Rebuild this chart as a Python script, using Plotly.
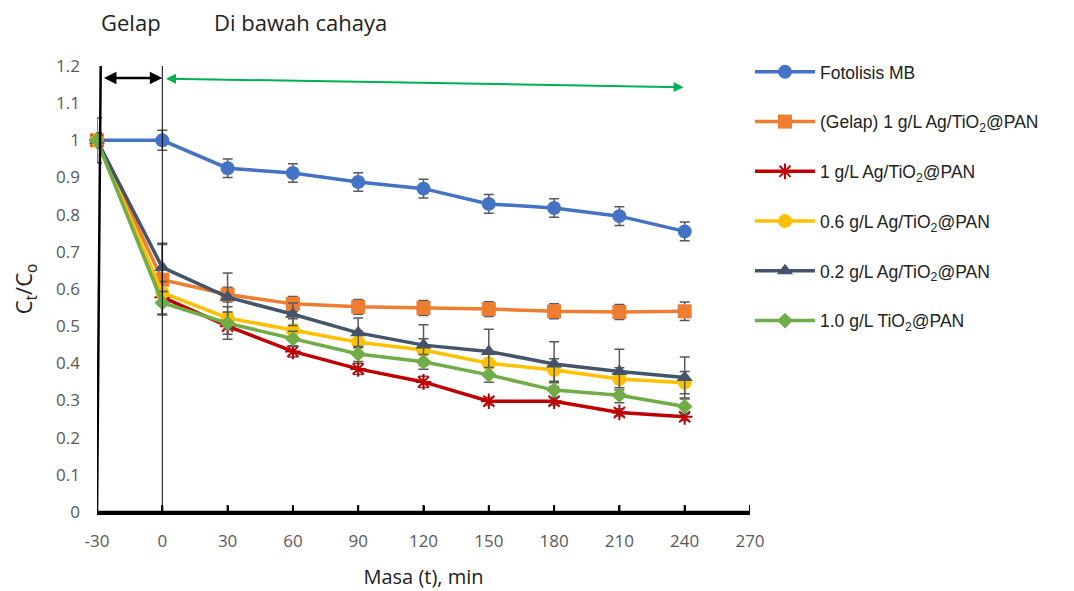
import plotly.graph_objects as go

time_min = [-30, 0, 30, 60, 90, 120, 150, 180, 210, 240]
x_ticks = [-30, 0, 30, 60, 90, 120, 150, 180, 210, 240, 270]

fotolisis = [1.0, 1.0, 0.925, 0.912, 0.888, 0.870, 0.829, 0.818, 0.796, 0.755]
fotolisis_err = [0.06, 0.027, 0.025, 0.025, 0.025, 0.025, 0.025, 0.025, 0.025, 0.025]

gelap_1g = [1.0, 0.625, 0.585, 0.560, 0.552, 0.549, 0.546, 0.540, 0.538, 0.540]
gelap_1g_err = [0.02, 0.095, 0.02, 0.02, 0.02, 0.02, 0.02, 0.02, 0.02, 0.025]

ag_1g = [1.0, 0.578, 0.500, 0.432, 0.385, 0.350, 0.298, 0.298, 0.268, 0.256]
ag_1g_err = [0.02, 0.02, 0.035, 0.015, 0.015, 0.015, 0.01, 0.01, 0.01, 0.01]

ag_06g = [1.0, 0.590, 0.522, 0.490, 0.457, 0.436, 0.400, 0.382, 0.358, 0.348]
ag_06g_err = [0.02, 0.03, 0.03, 0.03, 0.03, 0.03, 0.03, 0.03, 0.03, 0.03]

ag_02g = [1.0, 0.658, 0.578, 0.532, 0.482, 0.449, 0.432, 0.398, 0.378, 0.362]
ag_02g_err = [0.02, 0.065, 0.065, 0.03, 0.04, 0.055, 0.06, 0.06, 0.06, 0.055]

tio2_1g = [1.0, 0.563, 0.508, 0.466, 0.425, 0.404, 0.369, 0.328, 0.314, 0.284]
tio2_1g_err = [0.02, 0.03, 0.03, 0.02, 0.02, 0.02, 0.02, 0.02, 0.02, 0.02]

names = [
    "Fotolisis MB",
    "(Gelap) 1 g/L Ag/TiO<sub>2</sub>@PAN",
    "1 g/L Ag/TiO<sub>2</sub>@PAN",
    "0.6 g/L Ag/TiO<sub>2</sub>@PAN",
    "0.2 g/L Ag/TiO<sub>2</sub>@PAN",
    "1.0 g/L TiO<sub>2</sub>@PAN",
]
series = [fotolisis, gelap_1g, ag_1g, ag_06g, ag_02g, tio2_1g]
errors = [fotolisis_err, gelap_1g_err, ag_1g_err, ag_06g_err, ag_02g_err, tio2_1g_err]
colors = ["#4472C4", "#ED7D31", "#C00000", "#FFC000", "#44546A", "#70AD47"]
symbols = ["circle", "square", "asterisk-open", "circle", "triangle-up", "diamond"]
sizes = [14, 14, 13, 14, 14, 12]

fig = go.Figure()
for i, (nm, ys, er, c, s, sz) in enumerate(zip(names, series, errors, colors, symbols, sizes)):
    marker = dict(symbol=s, size=sz, color=c)
    if s == "asterisk-open":
        marker["line"] = dict(color=c, width=2)
    fig.add_trace(go.Scatter(
        x=time_min, y=ys, name=nm, mode="lines+markers",
        line=dict(color=c, width=3.5),
        marker=marker,
        error_y=dict(type="data", array=er, visible=True, color="#595959",
                     thickness=1.5, width=5),
        legendgroup=f"g{i}",
        cliponaxis=False,
    ))

# x axis baseline and inside tick marks
fig.add_shape(type="line", xref="x", yref="paper", x0=-30, x1=270, y0=0, y1=0,
              line=dict(color="black", width=2.5), layer="above")
for tv in x_ticks:
    fig.add_shape(type="line", xref="x", yref="paper", ysizemode="pixel", yanchor=0,
                  x0=tv, x1=tv, y0=0, y1=7,
                  line=dict(color="black", width=2), layer="above")

# vertical boundary lines
fig.add_shape(type="line", x0=-30, x1=-28.3, y0=-0.008, y1=1.2,
              line=dict(color="black", width=2.5), layer="above")
fig.add_shape(type="line", x0=0, x1=0, y0=0, y1=1.2,
              line=dict(color="black", width=1), layer="above")

# arrows
fig.add_annotation(x=0, y=1.168, ax=-27.5, ay=1.168, xref="x", yref="y",
                   axref="x", ayref="y", text="", showarrow=True,
                   arrowhead=2, startarrowhead=2, arrowside="end+start",
                   arrowwidth=2.5, arrowsize=1, arrowcolor="black")
fig.add_annotation(x=239.5, y=1.143, ax=1, ay=1.166, xref="x", yref="y",
                   axref="x", ayref="y", text="", showarrow=True,
                   arrowhead=2, startarrowhead=2, arrowside="end+start",
                   arrowwidth=2, arrowsize=1, arrowcolor="#00B050")

fig.add_annotation(text="Gelap", x=-14.5, y=1.099, xref="x", yref="paper", showarrow=False,
                   yanchor="middle", font=dict(family="Open Sans", size=22, color="#222222"))
fig.add_annotation(text="Di bawah cahaya", x=63.5, y=1.099, xref="x", yref="paper", showarrow=False,
                   yanchor="middle", font=dict(family="Open Sans", size=22, color="#222222"))

fig.update_layout(
    width=1074, height=591,
    margin=dict(l=89, r=332, t=58, b=87, autoexpand=False),
    plot_bgcolor="white", paper_bgcolor="white",
    showlegend=True,
    legend=dict(x=1.0, y=1.027, xanchor="left", yanchor="top",
                font=dict(family="Liberation Sans, Arial", size=17.5, color="#222222"),
                tracegroupgap=24, itemwidth=60, bgcolor="rgba(0,0,0,0)"),
    xaxis=dict(range=[-30, 270], tickmode="array", automargin=False,
               tickvals=x_ticks,
               ticktext=[str(v) for v in x_ticks],
               showline=True, linecolor="black", linewidth=2.5,
               ticks="inside", ticklen=6, tickwidth=2, tickcolor="black",
               ticklabelstandoff=12,
               showgrid=False, zeroline=False,
               tickfont=dict(family="Open Sans", size=17, color="#595959"),
               title=dict(text="Masa (t), min", font=dict(family="Open Sans", size=20, color="#222222"),
                          standoff=19)),
    yaxis=dict(range=[0, 1.2], dtick=0.1, tickformat="~g", automargin=False,
               showline=False, showgrid=False, zeroline=False,
               ticks="", ticklabelstandoff=16,
               tickfont=dict(family="Open Sans", size=17, color="#595959"),
               title=dict(text="C<sub>t</sub>/C<sub>o</sub>",
                          font=dict(family="Open Sans", size=22, color="#222222"),
                          standoff=18)),
)

fig.write_html("out.html")
